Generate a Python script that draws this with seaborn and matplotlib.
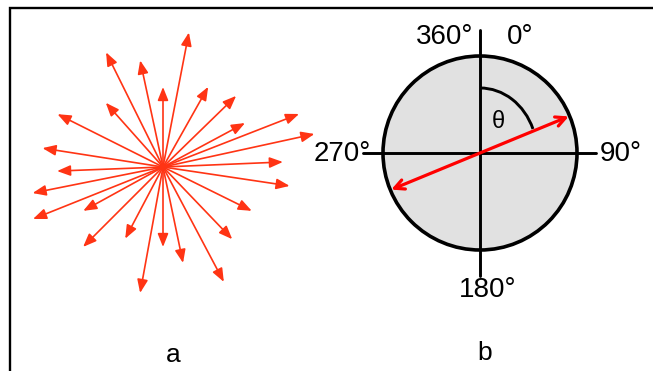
"""Panel a: rose of direction vectors; panel b: azimuth convention circle."""

import matplotlib

matplotlib.use("Agg")
import matplotlib.pyplot as plt
import numpy as np
import seaborn as sns
from matplotlib.patches import Arc, Circle

# panel a: arrow directions (degrees clockwise from north) and lengths (px)
bearings = [10.9, 333.6, 347.9, 0.0, 29.4, 45.8, 318.3, 296.6, 68.7, 61.8,
            77.7, 278.9, 267.8, 87.6, 98.5, 258.7, 248.2, 241.2, 116.3, 225.0,
            207.8, 180.0, 136.2, 168.2, 152.1, 190.3]
lengths = [137, 128, 109, 80, 92, 102, 86, 118, 146, 93,
           155, 122, 106, 120, 128, 133, 140, 91, 99, 113,
           81, 80, 100, 98, 130, 128]

# panel b: compass labels and the example axis
compass_labels = ["360°", "0°", "90°", "180°", "270°"]
theta_deg = 67.6
circle_r = 97

W, H = 653, 371
center_a = (163, 204)
center_b = (480, 218)

sns.set_theme(style="white")
plt.rcParams["font.family"] = ["Liberation Sans", "DejaVu Sans"]
plt.rcParams["text.color"] = "black"

fig = plt.figure(figsize=(W / 100, H / 100), dpi=100)
ax = fig.add_axes([0, 0, 1, 1])
ax.set_xlim(0, W)
ax.set_ylim(0, H)
ax.axis("off")

# frame (only left and top edges are inside the picture)
ax.plot([10, 10, W], [0, 363, 363], color="black", lw=1.7, solid_joinstyle="miter")

# --- panel a
rad = np.deg2rad(bearings)
tips_x = center_a[0] + np.array(lengths) * np.sin(rad)
tips_y = center_a[1] + np.array(lengths) * np.cos(rad)
for tx, ty in zip(tips_x, tips_y):
    ax.annotate("", xy=(tx, ty), xytext=center_a,
                arrowprops=dict(arrowstyle="-|>,head_length=0.8,head_width=0.32",
                                color="#ff3414", lw=1.2, mutation_scale=10,
                                shrinkA=0, shrinkB=0))
ax.text(173, 16, "a", fontsize=19, ha="center", va="center")

# --- panel b
ax.add_patch(Circle(center_b, circle_r, facecolor="#e1e1e1", edgecolor="black", lw=2.6, zorder=2))
ax.plot([center_b[0], center_b[0]], [95, 341], color="black", lw=2.1, zorder=3)
ax.plot([363, 596], [center_b[1], center_b[1]], color="black", lw=2.1, zorder=3)
ax.add_patch(Arc(center_b, 114, 130, theta1=90 - theta_deg + 2, theta2=90,
                 color="black", lw=2.1, zorder=3))

t = np.deg2rad(theta_deg)
r_tip = 96
p1 = (center_b[0] + r_tip * np.sin(t), center_b[1] + r_tip * np.cos(t))
p2 = (center_b[0] - r_tip * np.sin(t), center_b[1] - r_tip * np.cos(t))
ax.annotate("", xy=p1, xytext=p2,
            arrowprops=dict(arrowstyle="<->,head_length=0.7,head_width=0.35",
                            color="#ff0000", lw=2.3, mutation_scale=10,
                            shrinkA=0, shrinkB=0), zorder=4)

label_pos = {"360°": (445, 334), "0°": (520, 334), "90°": (621, 217),
             "180°": (488, 81), "270°": (342, 217)}
for lab in compass_labels:
    x, y = label_pos[lab]
    ax.text(x, y, lab, fontsize=20, ha="center", va="center", zorder=5)
ax.text(498, 249, "θ", fontsize=17, ha="center", va="center", zorder=5)
ax.text(485, 18, "b", fontsize=19, ha="center", va="center")

fig.savefig("out.png", dpi=100)
plt.close(fig)
